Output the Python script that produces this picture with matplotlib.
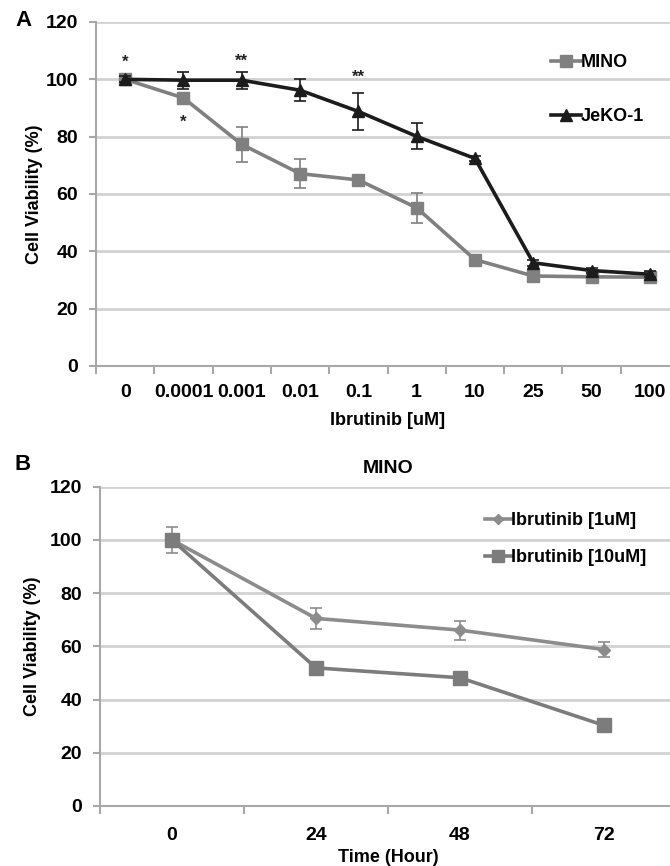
import matplotlib
matplotlib.use("Agg")
import matplotlib.pyplot as plt
from matplotlib.ticker import FixedLocator
import numpy as np

plt.rcParams['font.family'] = ['Liberation Sans', 'DejaVu Sans']
plt.rcParams['font.weight'] = 'bold'

# ---- Panel A data ----
conc_labels = ['0', '0.0001', '0.001', '0.01', '0.1', '1', '10', '25', '50', '100']
mino_a = [100, 93.5, 77.3, 67.1, 64.9, 55.2, 37.1, 31.4, 31.1, 31.0]
mino_a_err = [1.0, 1.0, 6.2, 5.0, 1.0, 5.2, 1.5, 1.0, 1.0, 1.0]
jeko_a = [100, 99.7, 99.7, 96.2, 88.8, 80.1, 72.4, 36.0, 33.3, 32.0]
jeko_a_err = [1.0, 3.0, 3.0, 3.8, 6.5, 4.5, 1.0, 1.0, 1.0, 1.0]
star_pos = ['0', '0.0001', '0.001', '0.1']
star_vals = [106.0, 85.0, 106.3, 100.8]
star_text = ['*', '*', '**', '**']

# ---- Panel B data ----
time_labels = ['0', '24', '48', '72']
ibr1 = [100, 70.5, 66.1, 58.8]
ibr1_err = [5.0, 3.8, 3.6, 2.8]
ibr10 = [100, 51.9, 48.2, 30.3]
ibr10_err = [1.0, 1.0, 1.0, 1.0]

W, H = 670, 866
fig = plt.figure(figsize=(W / 100, H / 100), dpi=100)

grid_c = '#d2d2d2'
spine_c = '#a8a8a8'
fs = 14


def style_axes(ax, ncat, xpad):
    ax.set_ylim(0, 120)
    ax.set_yticks(range(0, 121, 20))
    ax.set_xlim(-0.5, ncat - 0.5)
    ax.yaxis.grid(True, color=grid_c, linewidth=2)
    ax.set_axisbelow(True)
    for s in ['top', 'right']:
        ax.spines[s].set_visible(False)
    for s in ['left', 'bottom']:
        ax.spines[s].set_color(spine_c)
        ax.spines[s].set_linewidth(1.5)
    ax.tick_params(axis='y', length=5, color=spine_c, width=1.5, labelsize=fs, pad=8)
    ax.tick_params(axis='x', which='major', length=0, labelsize=fs, pad=xpad)
    ax.xaxis.set_minor_locator(FixedLocator(np.arange(-0.5, ncat, 1.0)))
    ax.tick_params(axis='x', which='minor', length=6, color=spine_c, width=1.5)


# Panel A
axA = fig.add_axes([96 / W, 1 - 366 / H, 583 / W, 344 / H])
mino_c = '#808080'
jeko_c = '#1c1c1c'
ebm = axA.errorbar(conc_labels, mino_a, yerr=mino_a_err, color=mino_c, marker='s', markersize=9,
                   linewidth=2.6, capsize=4, elinewidth=1.2, capthick=1.2, label='MINO', zorder=3)
ebj = axA.errorbar(conc_labels, jeko_a, yerr=jeko_a_err, color=jeko_c, marker='^', markersize=9,
                   linewidth=2.6, capsize=4, elinewidth=1.2, capthick=1.2, label='JeKO-1', zorder=4)
style_axes(axA, len(conc_labels), 13)
axA.set_ylabel('Cell Viability (%)', fontsize=13, fontweight='bold', labelpad=2)
axA.set_xlabel('Ibrutinib [uM]', fontsize=13, fontweight='bold', labelpad=8)
for p, v, t in zip(star_pos, star_vals, star_text):
    axA.text(conc_labels.index(p), v, t, ha='center', va='center', fontsize=12, color='#222222')
axA.legend(handles=[ebm[0], ebj[0]], labels=['MINO', 'JeKO-1'], loc='upper left',
           bbox_to_anchor=((551 - 96) / 583, (366 - 54) / 344), frameon=False,
           borderaxespad=0, borderpad=0,
           fontsize=13, handlelength=1.65, handletextpad=0.0, labelspacing=2.07,
           markerscale=0.9)
fig.text(15 / W, 1 - 20 / H, 'A', fontsize=16, fontweight='bold', va='center', ha='left')

# Panel B
axB = fig.add_axes([100 / W, 1 - 806 / H, 576 / W, 319.3 / H])
c1 = '#8c8c8c'
c10 = '#7c7c7c'
eb1 = axB.errorbar(time_labels, ibr1, yerr=ibr1_err, color=c1, marker='D', markersize=6,
                   linewidth=2.6, capsize=4, elinewidth=1.2, capthick=1.2, label='Ibrutinib [1uM]', zorder=3)
eb10 = axB.errorbar(time_labels, ibr10, yerr=ibr10_err, color=c10, marker='s', markersize=10,
                    linewidth=2.6, capsize=4, elinewidth=1.2, capthick=1.2, label='Ibrutinib [10uM]', zorder=4)
style_axes(axB, len(time_labels), 15)
axB.set_ylabel('Cell Viability (%)', fontsize=13, fontweight='bold', labelpad=6)
axB.set_xlabel('Time (Hour)', fontsize=13, fontweight='bold', labelpad=4)
axB.set_title('MINO', fontsize=14, fontweight='bold', pad=10)
axB.legend(handles=[eb1[0], eb10[0]], labels=['Ibrutinib [1uM]', 'Ibrutinib [10uM]'],
           loc='upper left', bbox_to_anchor=((485 - 100) / 576, (806 - 512) / 319.3),
           frameon=False, borderaxespad=0, borderpad=0,
           fontsize=13, handlelength=1.45, handletextpad=0.0, labelspacing=1.1,
           markerscale=0.8)
fig.text(15 / W, 1 - 464 / H, 'B', fontsize=16, fontweight='bold', va='center', ha='left')

fig.savefig('out.png', dpi=100)
